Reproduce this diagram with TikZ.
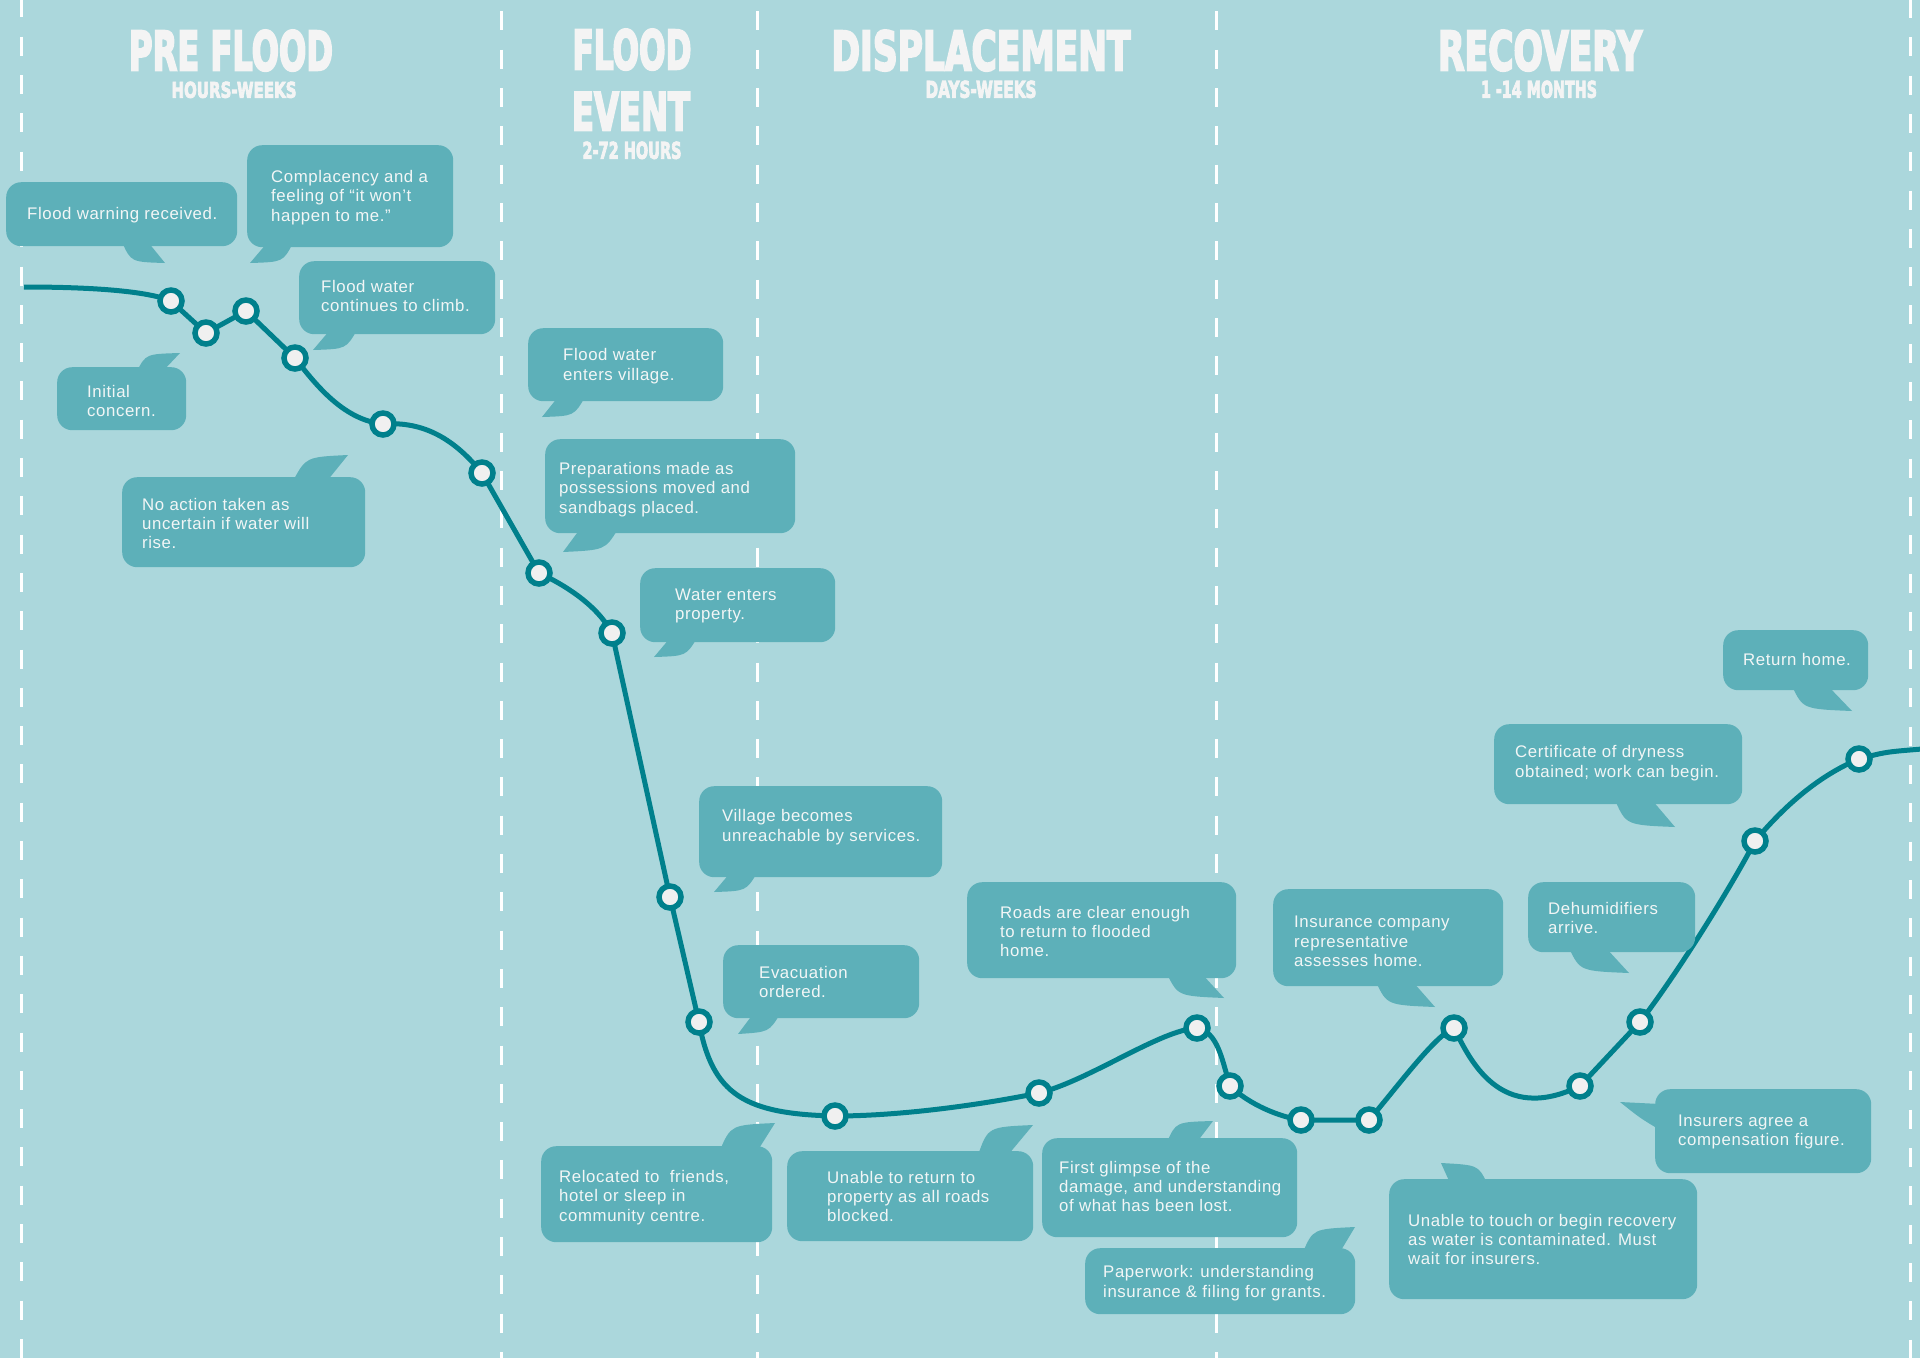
\documentclass[tikz,border=0pt]{standalone}
\usepackage{fontspec}
\setmainfont{Liberation Sans}
\newfontfamily\bubfont[LetterSpace=3.5]{Liberation Sans}
\newfontfamily\hdfont[FakeBold=4.5]{DejaVu Sans Bold}
\definecolor{bgc}{HTML}{ABD7DC}
\definecolor{bubc}{HTML}{5DB0B9}
\definecolor{linec}{HTML}{00808C}
\definecolor{mkfill}{HTML}{F0F0F0}
\definecolor{hdc}{HTML}{F4F4F4}
\definecolor{bubtext}{HTML}{F2F6F6}
\tikzset{
  bbox/.style={fill=bubc, rounded corners=15pt, inner sep=0pt, anchor=north west},
  btext/.style={anchor=west, inner sep=0pt, align=left, text=bubtext, font=\bubfont\fontsize{16.8}{19.3}\selectfont},
  tailfill/.style={fill=bubc},
  marker/.style={circle, draw=linec, line width=5.5pt, fill=mkfill, minimum size=22pt, inner sep=0pt},
  curveline/.style={draw=linec, line width=5pt},
  dashline/.style={draw=white, line width=3pt, dash pattern=on 19pt off 19.3pt},
  hd/.style={text=hdc, inner sep=0pt, anchor=north}
}
\begin{document}
\begin{tikzpicture}[x=1pt, y=-1pt]
\useasboundingbox (0,0) rectangle (1920,1358);
\fill[bgc] (0,0) rectangle (1920,1358);
% dashed phase lines
\draw[dashline, dash phase=1.6pt] (21,0) -- (21,1358);
\draw[dashline, dash phase=26.9pt] (501,0) -- (501,1358);
\draw[dashline, dash phase=26.9pt] (757,0) -- (757,1358);
\draw[dashline, dash phase=26.9pt] (1216,0) -- (1216,1358);
\draw[dashline, dash phase=1pt] (1910,0) -- (1910,1358);
% curve coordinates
\coordinate (c0) at (24,287);
\coordinate (c1) at (171,301);
\coordinate (c2) at (206,333);
\coordinate (c3) at (246,311);
\coordinate (c4) at (295,358);
\coordinate (c5) at (383,424);
\coordinate (c6) at (482,473);
\coordinate (c7) at (539,573);
\coordinate (c8) at (612,633);
\coordinate (c9) at (670,897);
\coordinate (c10) at (699,1022);
\coordinate (c11) at (835,1116);
\coordinate (c12) at (1039,1093);
\coordinate (c13) at (1197,1028);
\coordinate (c14) at (1230,1086);
\coordinate (c15) at (1301,1120);
\coordinate (c16) at (1369,1120);
\coordinate (c17) at (1454,1028);
\coordinate (c18) at (1580,1086);
\coordinate (c19) at (1640,1022);
\coordinate (c20) at (1755,841);
\coordinate (c21) at (1859,759);
\coordinate (c22) at (1922,749);
\draw[curveline] (c0) .. controls (100,287) and (150,292) .. (c1) -- (c2) -- (c3) -- (c4)
  .. controls (318,388) and (345,420) .. (c5)
  .. controls (425,421) and (455,440) .. (c6) -- (c7)
  .. controls (565,585) and (597,605) .. (c8) -- (c9) -- (c10)
  .. controls (712,1095) and (745,1114) .. (c11)
  .. controls (900,1116) and (980,1105) .. (c12)
  .. controls (1090,1080) and (1160,1030) .. (c13)
  .. controls (1218,1032) and (1222,1060) .. (c14)
  .. controls (1250,1105) and (1280,1117) .. (c15) -- (c16)
  .. controls (1395,1090) and (1435,1035) .. (c17)
  .. controls (1470,1060) and (1500,1125) .. (c18) -- (c19)
  .. controls (1680,970) and (1735,880) .. (c20)
  .. controls (1785,805) and (1820,775) .. (c21)
  .. controls (1885,752) .. (c22);
% markers
\foreach \i in {1,...,21} { \node[marker] (m\i) at (c\i) {}; }
% ---- bubbles ----
% 1
\fill[tailfill] (122,242) .. controls (131,262) .. (165,263) -- (148,242) -- cycle;
\node[bbox, minimum width=231pt, minimum height=64pt] (b1) at (6,182) {};
\node[btext] (t1) at (27,215.5) {Flood warning received.};
% 2
\fill[tailfill] (293,243) .. controls (283,262) .. (250,263) -- (267,243) -- cycle;
\node[bbox, minimum width=206pt, minimum height=102pt] (b2) at (247,145) {};
\node[btext] (t2) at (271,197.5) {Complacency and a\\feeling of “it won’t\\happen to me.”};
% 3
\fill[tailfill] (357,330) .. controls (346,349) .. (313,350) -- (330,330) -- cycle;
\node[bbox, minimum width=196pt, minimum height=73pt] (b3) at (299,261) {};
\node[btext] (t3) at (321,296) {Flood water\\continues to climb.};
% 4
\fill[tailfill] (137,371) .. controls (146,354) .. (180,353) -- (163,371) -- cycle;
\node[bbox, minimum width=129pt, minimum height=63pt] (b4) at (57,367) {};
\node[btext] (t4) at (87,401) {Initial\\concern.};
% 5
\fill[tailfill] (293,481) .. controls (306,457) .. (348,455) -- (327,481) -- cycle;
\node[bbox, minimum width=243pt, minimum height=90pt] (b5) at (122,477) {};
\node[btext] (t5) at (142,523.5) {No action taken as\\uncertain if water will\\rise.};
% 6
\fill[tailfill] (585,397) .. controls (574,416) .. (542,417) -- (558,397) -- cycle;
\node[bbox, minimum width=195pt, minimum height=73pt] (b6) at (528,328) {};
\node[btext] (t6) at (563,366) {Flood water\\enters village.};
% 7
\fill[tailfill] (618,529) .. controls (605,550) .. (563,552) -- (580,529) -- cycle;
\node[bbox, minimum width=250pt, minimum height=94pt] (b7) at (545,439) {};
\node[btext] (t7) at (559,489.5) {Preparations made as\\possessions moved and\\sandbags placed.};
% 8
\fill[tailfill] (697,638) .. controls (686,656) .. (654,657) -- (670,638) -- cycle;
\node[bbox, minimum width=195pt, minimum height=74pt] (b8) at (640,568) {};
\node[btext] (t8) at (675,606) {Water enters\\property.};
% 9
\fill[tailfill] (757,873) .. controls (746,891) .. (714,892) -- (730,873) -- cycle;
\node[bbox, minimum width=243pt, minimum height=91pt] (b9) at (699,786) {};
\node[btext] (t9) at (722,827) {Village becomes\\unreachable by services.};
% 10
\fill[tailfill] (780,1014) .. controls (769,1032) .. (738,1034) -- (753,1014) -- cycle;
\node[bbox, minimum width=196pt, minimum height=73pt] (b10) at (723,945) {};
\node[btext] (t10) at (759,982) {Evacuation\\ordered.};
% 11
\fill[tailfill] (720,1150) .. controls (731,1125) .. (775,1123) -- (758,1150) -- cycle;
\node[bbox, minimum width=231pt, minimum height=96pt] (b11) at (541,1146) {};
\node[btext] (t11) at (559,1197.5) {Relocated to~ friends,\\hotel or sleep in\\community centre.};
% 12
\fill[tailfill] (978,1155) .. controls (988,1127) .. (1033,1125) -- (1008,1155) -- cycle;
\node[bbox, minimum width=246pt, minimum height=90pt] (b12) at (787,1151) {};
\node[btext] (t12) at (827,1196.5) {Unable to return to\\property as all roads\\blocked.};
% 13
\fill[tailfill] (1167,974) .. controls (1178,996) .. (1224,998) -- (1202,974) -- cycle;
\node[bbox, minimum width=269pt, minimum height=96pt] (b13) at (967,882) {};
\node[btext] (t13) at (1000,931.5) {Roads are clear enough\\to return to flooded\\home.};
% 14
\fill[tailfill] (1167,1142) .. controls (1176,1122) .. (1213,1121) -- (1197,1142) -- cycle;
\node[bbox, minimum width=255pt, minimum height=99pt] (b14) at (1042,1138) {};
\node[btext] (t14) at (1059,1186.5) {First glimpse of the\\damage, and understanding\\of what has been lost.};
% 15
\fill[tailfill] (1303,1252) .. controls (1313,1229) .. (1355,1227) -- (1340,1252) -- cycle;
\node[bbox, minimum width=270pt, minimum height=66pt] (b15) at (1085,1248) {};
\node[btext] (t15) at (1103,1283) {Paperwork: understanding\\insurance \& filing for grants.};
% 16
\fill[tailfill] (1376,982) .. controls (1387,1005) .. (1435,1007) -- (1413,982) -- cycle;
\node[bbox, minimum width=230pt, minimum height=97pt] (b16) at (1273,889) {};
\node[btext] (t16) at (1294,941.5) {Insurance company\\representative\\assesses home.};
% 17
\fill[tailfill] (1569,948) .. controls (1580,971) .. (1629,973) -- (1606,948) -- cycle;
\node[bbox, minimum width=167pt, minimum height=70pt] (b17) at (1528,882) {};
\node[btext] (t17) at (1548,918) {Dehumidifiers\\arrive.};
% 18
\fill[tailfill] (1660,1130) .. controls (1640,1118) .. (1620,1102) -- (1660,1104) -- cycle;
\node[bbox, minimum width=216pt, minimum height=84pt] (b18) at (1655,1089) {};
\node[btext] (t18) at (1678,1132) {Insurers agree a\\compensation figure.};
% 19
\fill[tailfill] (1487,1183) .. controls (1478,1165) .. (1441,1163) -- (1450,1183) -- cycle;
\node[bbox, minimum width=308pt, minimum height=120pt] (b19) at (1389,1179) {};
\node[btext] (t19) at (1408,1239.5) {Unable to touch or begin recovery\\as water is contaminated. Must\\wait for insurers.};
% 20
\fill[tailfill] (1792,686) .. controls (1803,709) .. (1852,711) -- (1828,686) -- cycle;
\node[bbox, minimum width=145pt, minimum height=60pt] (b20) at (1723,630) {};
\node[btext] (t20) at (1743,659.5) {Return home.};
% 21
\fill[tailfill] (1615,800) .. controls (1626,825) .. (1675,827) -- (1652,800) -- cycle;
\node[bbox, minimum width=248pt, minimum height=80pt] (b21) at (1494,724) {};
\node[btext] (t21) at (1515,763) {Certificate of dryness\\obtained; work can begin.};
% ---- headers ----
\node[hd] (h1) at (231,30) {\resizebox{204pt}{40pt}{\hdfont PRE FLOOD}};
\node[hd] (h1s) at (234,81.5) {\resizebox{125pt}{16pt}{\hdfont HOURS-WEEKS}};
\node[hd] (h2) at (632,29) {\resizebox{119pt}{40pt}{\hdfont FLOOD}};
\node[hd] (h2b) at (631,92) {\resizebox{118pt}{38pt}{\hdfont EVENT}};
\node[hd] (h2s) at (632,141.5) {\resizebox{99pt}{17pt}{\hdfont 2-72 HOURS}};
\node[hd] (h3) at (981,30) {\resizebox{299pt}{40pt}{\hdfont DISPLACEMENT}};
\node[hd] (h3s) at (981,80.5) {\resizebox{111pt}{17pt}{\hdfont DAYS-WEEKS}};
\node[hd] (h4) at (1540,30) {\resizebox{204pt}{40pt}{\hdfont RECOVERY}};
\node[hd] (h4s) at (1539,80.5) {\resizebox{116pt}{17pt}{\hdfont 1 -14 MONTHS}};
\end{tikzpicture}
\end{document}
